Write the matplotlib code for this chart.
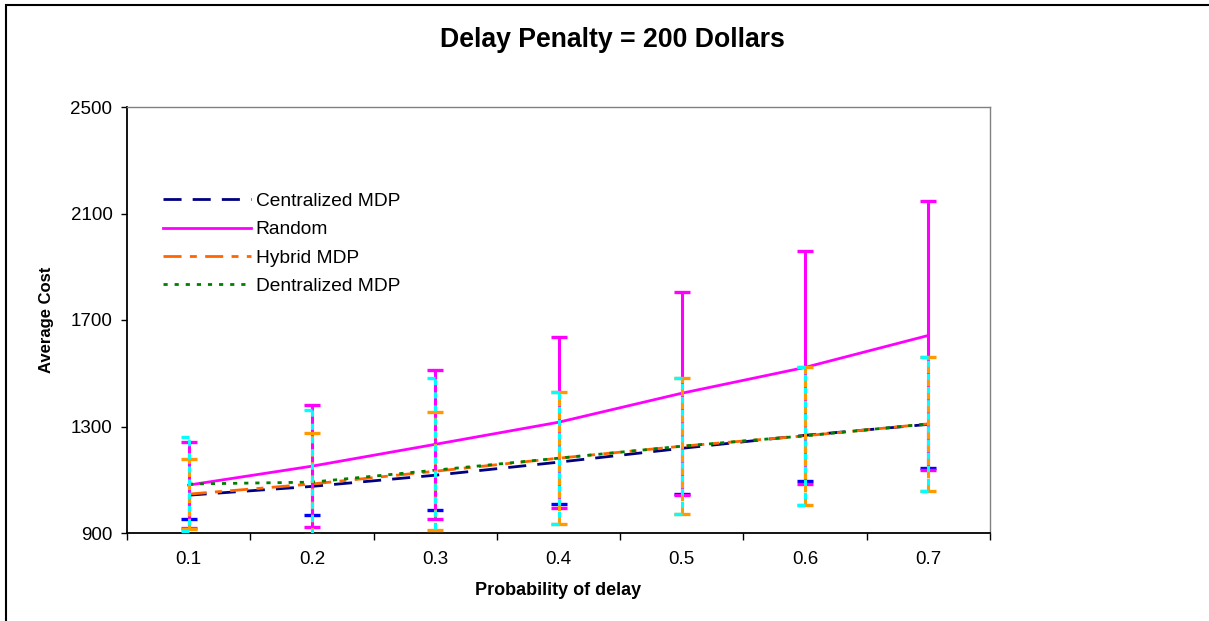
import matplotlib
matplotlib.use("Agg")
import matplotlib.pyplot as plt
from matplotlib.path import Path
from matplotlib.patches import Rectangle
import numpy as np

plt.rcParams['font.family'] = ['Liberation Sans', 'DejaVu Sans']

categories = ["0.1", "0.2", "0.3", "0.4", "0.5", "0.6", "0.7"]
centralized = [1042, 1075, 1117, 1166, 1218, 1267, 1308]
centralized_err = [90, 108, 131, 157, 172, 172, 165]
random_cost = [1080, 1151, 1233, 1316, 1425, 1522, 1642]
random_err = [161, 229, 281, 322, 382, 438, 506]
hybrid = [1046, 1084, 1132, 1181, 1226, 1265, 1310]
hybrid_err = [131, 191, 221, 247, 255, 260, 251]
dentralized = [1084, 1091, 1136, 1181, 1226, 1265, 1310]
dentralized_err = [176, 270, 345, 247, 255, 260, 251]
yticks = [900, 1300, 1700, 2100, 2500]

W, H = 1209, 621
fig = plt.figure(figsize=(W / 100, H / 100), dpi=100)
ax = fig.add_axes([127 / W, 1 - 533 / H, (990 - 127) / W, (533 - 107) / H])

# outer frame of chart area (left and top visible)
fig.patches.append(Rectangle((6 / W, -0.1), 1.2, 1 - 5 / H + 0.1, transform=fig.transFigure,
                             fill=False, edgecolor='black', linewidth=1.5))

x = np.arange(len(categories))

# lines
ax.plot(x, centralized, color='#000080', lw=2.0, linestyle=(0, (6.5, 4)), zorder=3,
        label='Centralized MDP')
ax.plot(x, random_cost, color='#FF00FF', lw=2.0, linestyle='-', zorder=3, label='Random')
ax.plot(x, hybrid, color='#FF6600', lw=2.0, linestyle=(0, (6.5, 3, 2.5, 3)), zorder=3,
        label='Hybrid MDP')
ax.plot(x, dentralized, color='#008000', lw=2.0, linestyle=(0, (1.5, 2.5)), zorder=3,
        label='Dentralized MDP')

# error bars
def cap(yvals, color, z, half=False):
    m = Path([(-1, 0), (0, 0)], [Path.MOVETO, Path.LINETO]) if half else '_'
    ax.plot(x, yvals, linestyle='none', marker=m, markersize=12,
            markeredgewidth=2.4, color=color, zorder=z)

def ebar(vals, errs, color, ls, z, half=False, minus_only=False):
    vals = np.array(vals, float)
    errs = np.array(errs, float)
    top = vals if minus_only else vals + errs
    ax.vlines(x, vals - errs, top, colors=color, linestyles=ls, lw=2.2, zorder=z)
    cap(vals - errs, color, z + 0.1, half)
    if not minus_only:
        cap(vals + errs, color, z + 0.1, half)

ebar(centralized, centralized_err, '#0000FF', 'solid', 4, minus_only=True)
ebar(random_cost, random_err, '#FF00FF', 'solid', 4.2)
ebar(hybrid, hybrid_err, '#FF9900', (0, (2.5, 1.8)), 4.4)
ebar(dentralized, dentralized_err, '#00FFFF', (2.2, (2.0, 2.3)), 4.6, half=True)

ax.set_xlim(-0.5, len(categories) - 0.5)
ax.set_ylim(yticks[0], yticks[-1])
ax.set_yticks(yticks)
ax.set_xticks(x)
ax.set_xticklabels(categories)
ax.set_xticks(np.arange(-0.5, len(categories)), minor=True)
ax.tick_params(axis='x', which='major', length=0, pad=13, labelsize=13.5)
ax.tick_params(axis='x', which='minor', length=5, width=1, direction='out')
ax.tick_params(axis='y', length=4.5, width=1, direction='out', pad=6, labelsize=13.5)
for s in ['left', 'bottom']:
    ax.spines[s].set_linewidth(1.3)
    ax.spines[s].set_color('black')
for s in ['top', 'right']:
    ax.spines[s].set_linewidth(1.0)
    ax.spines[s].set_color('#808080')

ax.set_xlabel('Probability of delay', fontsize=13, fontweight='bold', labelpad=10)
ax.set_ylabel('Average Cost', fontsize=12, fontweight='bold', labelpad=12)

fig.text(612 / W, 1 - 40 / H, 'Delay Penalty = 200 Dollars', ha='center', va='center',
         fontsize=19.2, fontweight='bold')

ax.legend(loc='upper left', bbox_to_anchor=(153 / W, 1 - 183 / H), bbox_transform=fig.transFigure,
          frameon=False, fontsize=13.8, handlelength=4.6, handletextpad=0.25, labelspacing=0.57,
          borderpad=0)

fig.savefig('out.png', dpi=100)
